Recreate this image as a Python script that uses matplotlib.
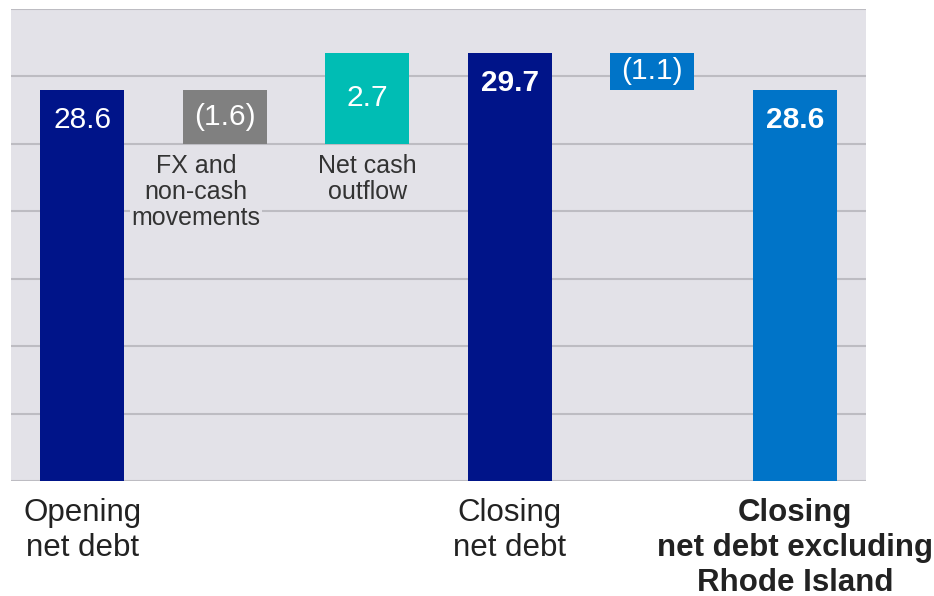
import matplotlib.pyplot as plt

plt.rcParams['font.family'] = ['Liberation Sans', 'DejaVu Sans']

# waterfall: net debt bridge (£bn)
categories = ['Opening\nnet debt', '', '', 'Closing\nnet debt', '',
              'Closing\nnet debt excluding\nRhode Island']
starts = [0, 28.6, 27.0, 0, 29.7, 0]
ends = [28.6, 27.0, 29.7, 29.7, 28.6, 28.6]
value_labels = ['28.6', '(1.6)', '2.7', '29.7', '(1.1)', '28.6']
bold_values = [False, False, False, True, False, True]
step_notes = ['', 'FX and\nnon-cash\nmovements', 'Net cash\noutflow', '', '', '']
colors = ['#001489', '#808080', '#00BDB4', '#001489', '#0074C8', '#0074C8']

fig = plt.figure(figsize=(9.34, 5.96), dpi=100)
ax = fig.add_axes([0.0118, 0.193, 0.9154, 0.792])
bg = '#E3E2E8'
ax.set_facecolor(bg)

x = range(len(categories))
y_floor = 17
lo = [max(min(s, e), y_floor) for s, e in zip(starts, ends)]
hi = [max(s, e) for s, e in zip(starts, ends)]
heights = [h - l for h, l in zip(hi, lo)]
ax.bar(x, heights, bottom=lo, width=0.59, color=colors, zorder=3)

for i in x:
    weight = 'bold' if bold_values[i] else 'normal'
    if starts[i] == 0:
        ax.annotate(value_labels[i], (i, hi[i]), xytext=(0, -22), textcoords='offset points',
                    ha='center', va='center', color='white', fontsize=21.5, fontweight=weight, zorder=4)
    else:
        ax.text(i, (hi[i] + lo[i]) / 2, value_labels[i], ha='center', va='center',
                color='white', fontsize=21.5, fontweight=weight, zorder=4)
    if step_notes[i]:
        ax.annotate(step_notes[i], (i - (0.2 if i == 1 else 0), lo[i]), xytext=(0, -7),
                    textcoords='offset points', ha='center', va='top', fontsize=18,
                    color='#333333', linespacing=1.12, multialignment='center', zorder=4,
                    bbox=dict(facecolor=bg, edgecolor='none', pad=1))

ax.set_xlim(-0.5, 5.5)
ax.set_ylim(17, 31)
ax.set_yticks(range(17, 32, 2))
ax.yaxis.grid(True, color='#BDBCC2', linewidth=1.5, zorder=0)
ax.set_axisbelow(True)
ax.tick_params(axis='y', left=False, labelleft=False)
ax.tick_params(axis='x', length=0, pad=12)
ax.set_xticks(list(x))
ax.set_xticklabels(categories, fontsize=22.5, color='#222222', linespacing=1.22)
ax.get_xticklabels()[5].set_fontweight('bold')
for s in ax.spines.values():
    s.set_visible(False)

fig.savefig('out.png', dpi=100)
